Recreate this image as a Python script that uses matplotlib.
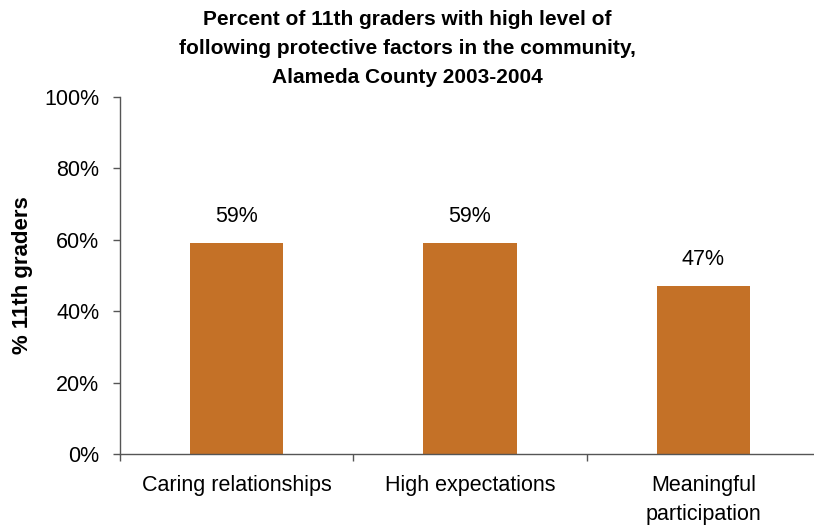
import matplotlib
matplotlib.use("Agg")
import matplotlib.pyplot as plt
from matplotlib.ticker import FuncFormatter, FixedLocator

categories = ["Caring relationships", "High expectations", "Meaningful\nparticipation"]
values = [59, 59, 47]
value_labels = ["59%", "59%", "47%"]
yticks = [0, 20, 40, 60, 80, 100]

plt.rcParams["font.family"] = ["Liberation Sans", "DejaVu Sans"]

fig = plt.figure(figsize=(8.14, 5.29), dpi=100)
ax = fig.add_axes([0.1474, 0.1418, 0.86, 0.675])

x = range(len(categories))
ax.bar(x, values, width=0.4, color="#C47127")
for xi, v, lab in zip(x, values, value_labels):
    ax.text(xi, v + 4.5, lab, ha="center", va="bottom", fontsize=15.5)

ax.set_xlim(-0.5, 2.5)
ax.set_ylim(0, 100)
ax.set_yticks(yticks)
ax.yaxis.set_major_formatter(FuncFormatter(lambda v, p: f"{v:.0f}%"))
ax.tick_params(axis="y", labelsize=15.5, length=5, color="#555555", width=1, pad=10)

ax.set_xticks(list(x))
ax.set_xticklabels(categories, fontsize=15.5, linespacing=1.5)
ax.tick_params(axis="x", length=0, pad=15)
ax.xaxis.set_minor_locator(FixedLocator([-0.5, 0.5, 1.5, 2.5]))
ax.tick_params(axis="x", which="minor", length=5, color="#555555", width=1)

for side in ["top", "right"]:
    ax.spines[side].set_visible(False)
for side in ["left", "bottom"]:
    ax.spines[side].set_color("#555555")
    ax.spines[side].set_linewidth(1)

ax.set_ylabel("% 11th graders", fontsize=16, fontweight="bold", labelpad=8)
fig.text(0.5, 0.981,
         "Percent of 11th graders with high level of\n"
         "following protective factors in the community,\n"
         "Alameda County 2003-2004",
         ha="center", va="top", fontsize=15, fontweight="bold", linespacing=1.65)

fig.savefig("out.png", dpi=100)
